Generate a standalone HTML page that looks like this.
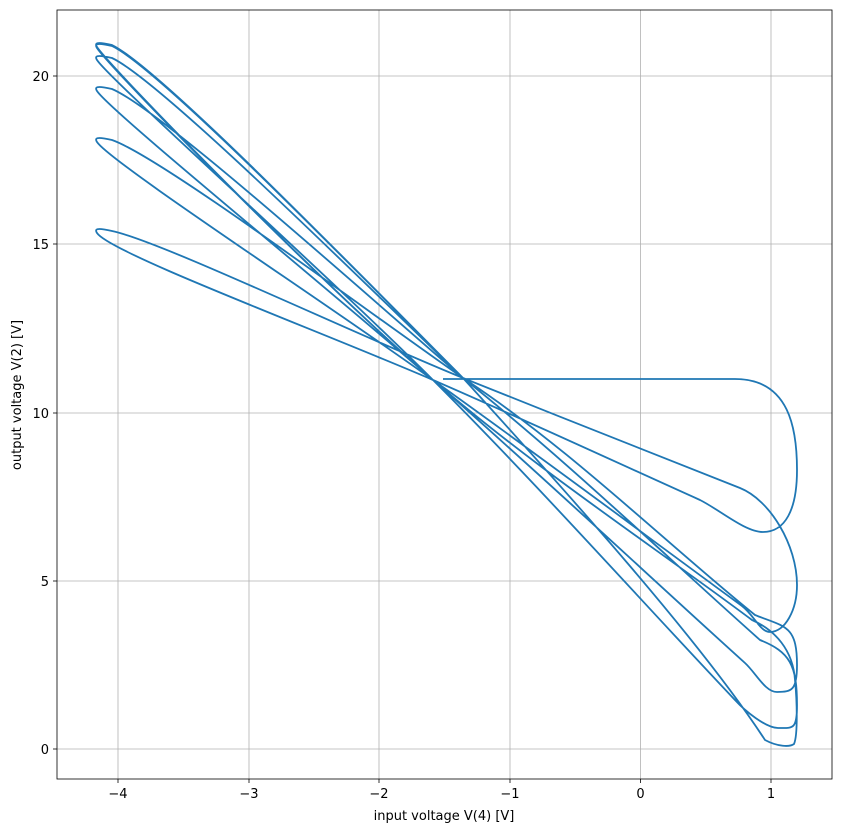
<!DOCTYPE html>
<html><head><meta charset="utf-8"><style>
body{margin:0;background:#fff;}
svg text{font-family:"DejaVu Sans","Liberation Sans",sans-serif;font-size:13px;fill:#000;}
</style></head><body>
<svg width="842" height="833" xmlns="http://www.w3.org/2000/svg">
<rect width="842" height="833" fill="#fff"/>
<g stroke="#b0b0b0" stroke-width="0.8">
<line x1="118" y1="10" x2="118" y2="779"/><line x1="249" y1="10" x2="249" y2="779"/>
<line x1="379" y1="10" x2="379" y2="779"/><line x1="510" y1="10" x2="510" y2="779"/>
<line x1="640.5" y1="10" x2="640.5" y2="779"/><line x1="771" y1="10" x2="771" y2="779"/>
<line x1="57" y1="749" x2="832" y2="749"/><line x1="57" y1="581" x2="832" y2="581"/>
<line x1="57" y1="413" x2="832" y2="413"/><line x1="57" y1="244" x2="832" y2="244"/>
<line x1="57" y1="76" x2="832" y2="76"/>
</g>
<path fill="none" stroke="#1f77b4" stroke-width="1.8" stroke-linejoin="round" d="
M443,379 L735,379 C790,379 797,430 797,470 C797,510 785,532 763,532 C745,532 720,510 700,500
C620,464 523,419 433,380 C322,332 110,253 97,233 C93,227 103,229 112,231
C160,241 353.5,333.6 463,378 C555,415 657,455 740,488
C770,500 797,545 797,585 C797,610 785,632 770,632 C760,632 754,615 742,606
C649,538 537,454 433,380 C323,301 110,162 97,142 C93,136 103,138 112,140
C160,156.7 353.5,301.4 463,378 C568,446.7 667,544 755,615
C785,627 797,625 797,665 C797,690 792,692 777,692 C765,692 756,673 745,663
C651,578 539,473 433,380 C323,284 110,111 97,91 C93,85 103,87 112,89
C160,109.3 353.5,283.4 463,378 C566.4,460.1 671,561 760,640
C790,652 797,665 797,705 C797,730 793,728 778,728 C766,728 745,711 735,700
C644,604 536.8,483.7 433,380 C325,272 110,80 97,60 C93,54 103,56 112,58
C160,80.5 353.5,272.4 463,378 C563,488 700,640 765,740
C778,747 790,747 794,744 C798,735 797,700 795,680 C793,650 775,630 752,620
C656,548 533.4,467.2 433,380 C316,278 110,68 97,48 C93,42 103,44 112,46
C160,69.3 353.5,268.3 463,378 C563,488 700,640 765,740
C778,747 790,747 794,744 C798,735 797,700 795,680 C793,650 775,630 752,620
C656,548 533.4,467.2 433,380 C316,278 110,67 97,47 C93,41 103,43 112,45
C160,68.3 353.5,268 463,378 C563,488 700,640 765,740
C778,747 790,747 794,744 C798,735 797,700 795,680 C793,650 775,630 752,620
C656,548 533.4,467.2 433,380 C316,278 110,67 97,47 C93,41 103,43 112,45
C160,68.3 353.5,268 463,378 C563,488 700,640 765,740
C778,747 790,747 794,744"/>
<rect x="57" y="10" width="775" height="769" fill="none" stroke="#000" stroke-width="0.8"/>
<g stroke="#000" stroke-width="0.8">
<line x1="118" y1="779" x2="118" y2="783"/><line x1="249" y1="779" x2="249" y2="783"/>
<line x1="379" y1="779" x2="379" y2="783"/><line x1="510" y1="779" x2="510" y2="783"/>
<line x1="640.5" y1="779" x2="640.5" y2="783"/><line x1="771" y1="779" x2="771" y2="783"/>
<line x1="53" y1="749" x2="57" y2="749"/><line x1="53" y1="581" x2="57" y2="581"/>
<line x1="53" y1="413" x2="57" y2="413"/><line x1="53" y1="244" x2="57" y2="244"/>
<line x1="53" y1="76" x2="57" y2="76"/>
</g>
<g text-anchor="middle">
<text x="118" y="798">−4</text><text x="249" y="798">−3</text><text x="379" y="798">−2</text>
<text x="510" y="798">−1</text><text x="640.5" y="798">0</text><text x="771" y="798">1</text>
<text x="444" y="820">input voltage V(4) [V]</text>
</g>
<g text-anchor="end">
<text x="49" y="754">0</text><text x="49" y="586">5</text><text x="49" y="418">10</text>
<text x="49" y="249">15</text><text x="49" y="81">20</text>
</g>
<text transform="translate(21,395) rotate(-90)" text-anchor="middle">output voltage V(2) [V]</text>
</svg>
</body></html>
